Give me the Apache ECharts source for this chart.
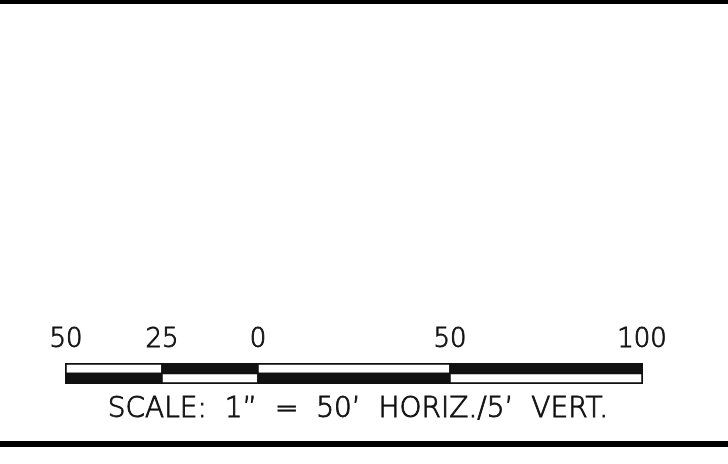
<!DOCTYPE html>
<html>
<head>
<meta charset="utf-8">
<script src="https://cdn.jsdelivr.net/npm/echarts@6/dist/echarts.min.js"></script>
<style>
  html, body { margin: 0; padding: 0; background: #fff; }
  #main { width: 728px; height: 464px; }
</style>
</head>
<body>
<div id="main"></div>
<script>
// scale bar segments (feet)
var segStart = [-50, -25, 0, 50];
var segEnd = [-25, 0, 50, 100];
var topBlack = [0, 1, 0, 1]; // 1 = top half black, bottom white
var hiddenTicks = [25, 75];
var scaleText = 'SCALE:  1\u201D  =  50\u2019  HORIZ./5\u2019  VERT.';

var segData = segStart.map(function (s, i) { return [s, segEnd[i], topBlack[i]]; });

var myChart = echarts.init(document.getElementById('main'));

function renderSeg(params, api) {
  var s = api.value(0), e = api.value(1), tb = api.value(2);
  var p0 = api.coord([s, 2]);
  var p1 = api.coord([e, 1]);
  var p2 = api.coord([e, 0]);
  var w = p1[0] - p0[0];
  var hTop = p1[1] - p0[1];
  var hBot = p2[1] - p1[1];
  return {
    type: 'group',
    children: [
      { type: 'rect', shape: { x: p0[0], y: p0[1], width: w, height: hTop },
        style: { fill: tb ? '#111' : '#fff', stroke: '#111', lineWidth: 1.5 } },
      { type: 'rect', shape: { x: p0[0], y: p1[1], width: w, height: hBot },
        style: { fill: tb ? '#fff' : '#111', stroke: '#111', lineWidth: 1.5 } }
    ]
  };
}

var option = {
  animation: false,
  backgroundColor: '#fff',
  grid: { left: 66, right: 86, top: 364, height: 19 },
  xAxis: {
    type: 'value', position: 'top', min: -50, max: 100, interval: 25,
    axisLine: { show: false }, axisTick: { show: false }, splitLine: { show: false },
    axisLabel: {
      margin: 11, fontSize: 26, color: '#111', fontFamily: 'DejaVu Sans', fontWeight: 200,
      textBorderColor: '#111', textBorderWidth: 0.9,
      showMinLabel: true, showMaxLabel: true,
      formatter: function (v) { return hiddenTicks.indexOf(v) >= 0 ? '' : String(Math.abs(v)); }
    }
  },
  yAxis: { type: 'value', min: 0, max: 2, show: false },
  series: [{
    type: 'custom', renderItem: renderSeg, data: segData,
    encode: { x: [0, 1], y: 2 }
  }],
  graphic: [
    { type: 'rect', shape: { x: 0, y: 0, width: 728, height: 4 }, style: { fill: '#000' } },
    { type: 'rect', shape: { x: 0, y: 441, width: 728, height: 6 }, style: { fill: '#000' } },
    { type: 'rect', shape: { x: 66, y: 364, width: 576, height: 19 }, style: { fill: 'none', stroke: '#111', lineWidth: 2 } },
    { type: 'text', x: 358, y: 396, style: { text: scaleText, align: 'center', verticalAlign: 'top',
        font: '200 28px "DejaVu Sans"', fill: '#111', stroke: '#111', lineWidth: 0.9 } }
  ]
};
myChart.setOption(option);
</script>
</body>
</html>
